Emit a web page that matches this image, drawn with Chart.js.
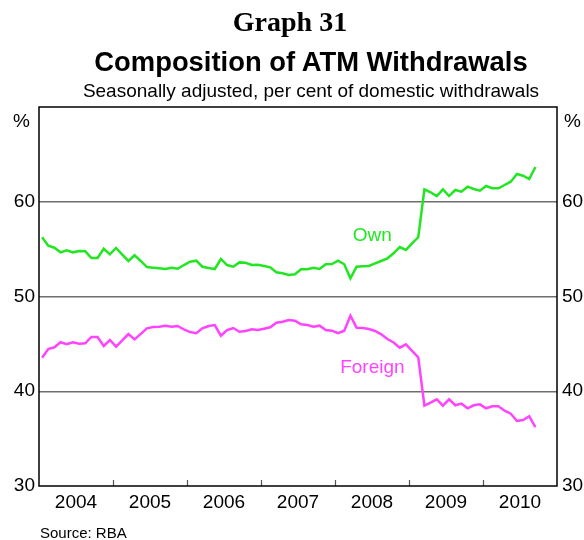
<!DOCTYPE html>
<html>
<head>
<meta charset="utf-8">
<script src="https://cdn.jsdelivr.net/npm/chart.js@4.4.1/dist/chart.umd.min.js"></script>
<style>
  html, body { margin: 0; padding: 0; background: #fff; }
  #wrap { position: relative; width: 584px; height: 540px; overflow: hidden; }
  canvas { position: absolute; left: 0; top: 0; }
  .t { position: absolute; white-space: nowrap; line-height: 1; color: #000; font-family: Arial, "Liberation Sans", sans-serif; }
  .c { transform: translateX(-50%); }
</style>
</head>
<body>
<div id="wrap">
  <canvas id="chart" width="584" height="540"></canvas>
  <div class="t c" style="left:290px; top:7.5px; font-family:'Times New Roman','Liberation Serif',serif; font-weight:bold; font-size:28px;">Graph 31</div>
  <div class="t c" style="left:311px; top:47.8px; font-weight:bold; font-size:27.4px;">Composition of ATM Withdrawals</div>
  <div class="t c" style="left:311px; top:81px; font-size:19px;">Seasonally adjusted, per cent of domestic withdrawals</div>
  <div class="t" style="left:13px; top:111px; font-size:19px;">%</div>
  <div class="t" style="left:564px; top:111px; font-size:19px;">%</div>
  <div class="t" style="left:40px; top:525px; font-size:15px;">Source: RBA</div>
</div>
<script>
// Monthly observations, January 2004 to September 2010
const startYear = 2004;
const years = [2004, 2005, 2006, 2007, 2008, 2009, 2010];
const yTicks = [30, 40, 50, 60, 70];

const own = [
  56.25, 55.36, 55.15, 54.66, 54.88, 54.66, 54.80, 54.77, 54.06, 54.06, 55.04, 54.45,
  55.12, 54.43, 53.75, 54.35, 53.75, 53.11, 53.04, 52.98, 52.90, 53.04, 52.93, 53.32,
  53.67, 53.78, 53.14, 53.00, 52.90, 53.96, 53.32, 53.14, 53.60, 53.56, 53.32, 53.36,
  53.22, 53.08, 52.55, 52.45, 52.27, 52.34, 52.87, 52.87, 53.04, 52.90, 53.40, 53.43,
  53.78, 53.40, 51.92, 53.14, 53.19, 53.22, 53.50, 53.75, 54.03, 54.56, 55.22, 54.91,
  55.60, 56.25, 61.31, 61.00, 60.60, 61.31, 60.60, 61.24, 61.06, 61.59, 61.35, 61.17,
  61.66, 61.42, 61.42, 61.77, 62.12, 62.93, 62.75, 62.40, 63.67
];

const foreign = [
  43.54, 44.46, 44.64, 45.17, 44.96, 45.17, 45.02, 45.06, 45.73, 45.73, 44.78, 45.41,
  44.71, 45.36, 46.04, 45.48, 46.06, 46.64, 46.78, 46.81, 46.92, 46.81, 46.89, 46.52,
  46.25, 46.12, 46.64, 46.89, 46.99, 45.86, 46.46, 46.67, 46.28, 46.36, 46.54, 46.46,
  46.60, 46.75, 47.24, 47.34, 47.52, 47.45, 47.07, 46.99, 46.81, 46.92, 46.46, 46.39,
  46.12, 46.39, 47.97, 46.71, 46.68, 46.57, 46.36, 46.01, 45.51, 45.15, 44.60, 44.95,
  44.27, 43.58, 38.48, 38.80, 39.15, 38.48, 39.15, 38.52, 38.69, 38.20, 38.52, 38.62,
  38.20, 38.41, 38.41, 37.95, 37.63, 36.86, 36.97, 37.36, 36.20
];

// month index -> decimal year at mid-month
function monthPos(i) { return startYear + (i + 0.5) / 12; }
const ownPts = own.map((v, i) => ({ x: monthPos(i), y: v }));
const foreignPts = foreign.map((v, i) => ({ x: monthPos(i), y: v }));

const FONT = "Arial, 'Liberation Sans', sans-serif";

const framePlugin = {
  id: 'frame',
  afterDraw(chart) {
    const ctx = chart.ctx, a = chart.chartArea, xs = chart.scales.x;
    ctx.save();
    // year boundary tick marks (inside, upward)
    ctx.strokeStyle = '#555';
    ctx.lineWidth = 1.2;
    for (let k = 1; k < years.length; k++) {
      const px = Math.round(xs.getPixelForValue(years[k])) + 0.5;
      ctx.beginPath();
      ctx.moveTo(px, a.bottom);
      ctx.lineTo(px, a.bottom - 6);
      ctx.stroke();
    }
    // frame
    ctx.strokeStyle = '#000';
    ctx.lineWidth = 1.5;
    ctx.strokeRect(a.left, a.top, a.right - a.left, a.bottom - a.top);
    // series labels
    const ys = chart.scales.y;
    ctx.font = '19px ' + FONT;
    ctx.textBaseline = 'middle';
    ctx.textAlign = 'left';
    ctx.fillStyle = '#22e622';
    ctx.fillText('Own', xs.getPixelForValue(2008.24), ys.getPixelForValue(56.4));
    ctx.fillStyle = '#ff44ff';
    ctx.fillText('Foreign', xs.getPixelForValue(2008.07), ys.getPixelForValue(42.5));
    ctx.restore();
  }
};

new Chart(document.getElementById('chart'), {
  type: 'line',
  data: {
    datasets: [
      { label: 'Own', data: ownPts, borderColor: '#22e622', borderWidth: 2.5, pointRadius: 0, tension: 0, fill: false },
      { label: 'Foreign', data: foreignPts, borderColor: '#ff44ff', borderWidth: 2.5, pointRadius: 0, tension: 0, fill: false }
    ]
  },
  options: {
    responsive: false,
    devicePixelRatio: 1,
    animation: false,
    layout: { padding: { top: 107, left: 0, right: 0, bottom: 0 } },
    plugins: { legend: { display: false }, tooltip: { enabled: false }, title: { display: false } },
    scales: {
      x: {
        type: 'linear',
        min: years[0],
        max: years[years.length - 1] + 1,
        grid: { display: false, drawTicks: false },
        border: { display: false },
        afterBuildTicks(scale) { scale.ticks = years.map(y => ({ value: y + 0.5 })); },
        afterFit(scale) { scale.height = 54; },
        ticks: {
          autoSkip: false, maxRotation: 0, padding: 5,
          color: '#000', font: { family: FONT, size: 19 },
          callback: v => String(Math.floor(v))
        }
      },
      y: {
        position: 'left',
        min: yTicks[0], max: yTicks[yTicks.length - 1],
        afterBuildTicks(scale) { scale.ticks = yTicks.map(v => ({ value: v })); },
        afterFit(scale) { scale.width = 39; },
        border: { display: false },
        grid: {
          drawTicks: false,
          lineWidth: 1.5,
          color: ctx => (ctx.tick && (ctx.tick.value === 30 || ctx.tick.value === 70)) ? 'rgba(0,0,0,0)' : '#6e6e6e'
        },
        ticks: {
          padding: 4, color: '#000', font: { family: FONT, size: 19 },
          callback: v => v === 70 ? '' : String(v)
        }
      },
      y2: {
        position: 'right',
        min: yTicks[0], max: yTicks[yTicks.length - 1],
        afterBuildTicks(scale) { scale.ticks = yTicks.map(v => ({ value: v })); },
        afterFit(scale) { scale.width = 27; },
        border: { display: false },
        grid: { display: false, drawTicks: false },
        ticks: {
          padding: 5, color: '#000', font: { family: FONT, size: 19 },
          callback: v => v === 70 ? '' : String(v)
        }
      }
    }
  },
  plugins: [framePlugin]
});
</script>
</body>
</html>
